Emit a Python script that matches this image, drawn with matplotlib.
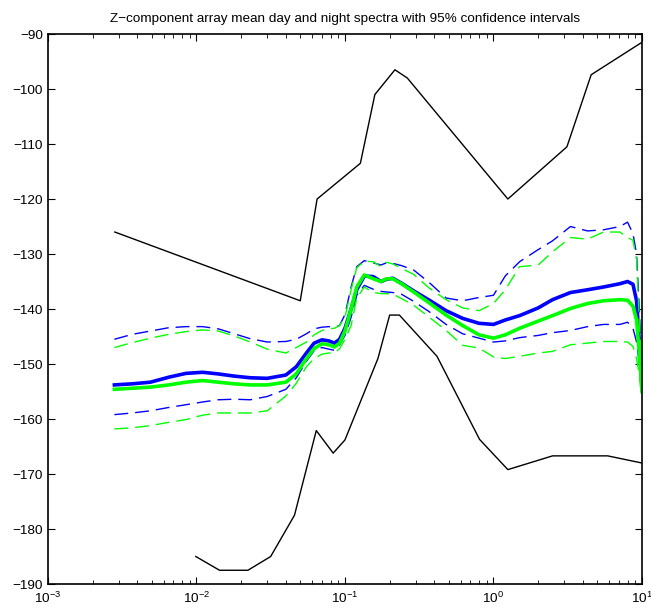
import matplotlib
matplotlib.use("Agg")
import matplotlib.pyplot as plt

plt.rcParams['font.family'] = ['Liberation Sans', 'DejaVu Sans']

# Peterson noise models (frequency in Hz, dB)
nhnm_f = [0.00282, 0.05, 0.0649, 0.127, 0.159, 0.217, 0.263, 1.25, 3.125, 4.55, 10.0]
nhnm_db = [-126.0, -138.5, -120.0, -113.5, -101.0, -96.5, -98.0, -120.0, -110.5, -97.4, -91.5]

nlnm_f = [0.0099, 0.0143, 0.0222, 0.0316, 0.0457, 0.0641, 0.0833, 0.1, 0.1667, 0.2,
          0.2326, 0.4167, 0.806, 1.25, 2.5, 5.88, 10.0]
nlnm_db = [-185.0, -187.5, -187.5, -185.0, -177.5, -162.1, -166.2, -163.8, -149.0, -141.1,
           -141.1, -148.6, -163.7, -169.2, -166.7, -166.7, -168.0]

# array mean spectra
freq = [0.0028, 0.0037, 0.0049, 0.0065, 0.0085, 0.011, 0.014, 0.018, 0.023, 0.03,
        0.04, 0.047, 0.055, 0.062, 0.07, 0.078, 0.085, 0.092, 0.1, 0.11,
        0.12, 0.135, 0.155, 0.175, 0.19, 0.21, 0.24, 0.29, 0.37, 0.48,
        0.62, 0.8, 1.0, 1.2, 1.5, 2.0, 2.5, 3.3, 4.3, 5.5,
        7.1, 8.0, 8.7, 9.2, 9.6, 10.0]

day_mean = [-153.8, -153.6, -153.3, -152.4, -151.7, -151.5, -151.8, -152.2, -152.5, -152.6,
            -152.0, -150.5, -148.0, -146.2, -145.6, -145.8, -146.2, -145.5, -143.5, -140.0,
            -136.5, -134.0, -134.1, -135.0, -134.6, -134.4, -135.3, -136.7, -138.4, -140.3,
            -141.7, -142.6, -142.8, -142.0, -141.2, -139.8, -138.3, -137.0, -136.5, -136.0,
            -135.4, -135.0, -135.5, -138.5, -146.0, -154.0]
day_up = [-145.5, -144.6, -144.0, -143.4, -143.2, -143.2, -143.6, -144.5, -145.4, -146.0,
          -145.9, -145.5, -144.5, -143.6, -143.3, -143.2, -143.3, -143.0, -141.0, -136.0,
          -132.3, -131.2, -131.6, -132.0, -131.6, -131.7, -132.1, -132.9, -135.2, -138.0,
          -138.5, -137.9, -137.5, -134.0, -131.4, -129.2, -127.6, -125.0, -125.8, -125.6,
          -125.0, -124.2, -126.3, -130.0, -140.0, -152.0]
day_low = [-159.2, -158.9, -158.5, -157.9, -157.4, -156.9, -156.5, -156.4, -156.5, -155.9,
           -154.6, -152.5, -149.5, -147.6, -147.0, -147.3, -147.5, -146.5, -144.8, -141.5,
           -137.5, -135.7, -136.4, -136.8, -136.9, -137.0, -137.3, -138.6, -140.5, -142.8,
           -144.5, -145.3, -146.0, -145.8, -145.2, -144.8, -144.3, -143.9, -143.2, -142.8,
           -142.8, -142.4, -143.5, -146.0, -150.0, -155.0]

night_mean = [-154.6, -154.4, -154.2, -153.8, -153.3, -153.0, -153.3, -153.6, -153.8, -153.8,
              -153.3, -151.8, -149.0, -147.2, -146.3, -146.5, -146.9, -146.2, -144.0, -140.0,
              -136.0, -133.8, -134.5, -135.0, -134.5, -134.5, -135.4, -136.9, -138.9, -141.1,
              -143.0, -144.7, -145.3, -144.7, -143.5, -142.2, -141.2, -139.9, -139.0, -138.5,
              -138.3, -138.4, -139.5, -142.0, -148.0, -155.0]
night_up = [-147.0, -146.1, -145.3, -144.6, -144.1, -143.8, -144.0, -144.9, -146.0, -147.3,
            -148.0, -147.0, -146.0, -144.7, -143.9, -143.6, -143.5, -143.0, -141.5, -136.5,
            -132.5, -131.3, -131.4, -132.3, -131.5, -131.8, -132.6, -133.7, -136.2, -138.3,
            -139.8, -140.3, -139.0, -136.5, -132.3, -132.0, -129.6, -127.0, -127.3, -126.0,
            -126.0, -127.0, -127.5, -131.0, -142.0, -153.0]
night_low = [-161.8, -161.6, -161.2, -160.6, -160.1, -159.3, -158.9, -158.9, -158.9, -158.5,
             -155.8, -153.5, -150.5, -149.0, -148.2, -148.0, -148.0, -147.2, -145.5, -143.0,
             -138.0, -136.0, -137.0, -137.2, -137.2, -137.3, -138.1, -139.3, -141.5, -143.9,
             -146.6, -147.1, -148.7, -149.0, -148.6, -148.0, -147.7, -146.5, -146.2, -145.9,
             -145.9, -146.0, -146.8, -149.0, -152.0, -156.0]

fig = plt.figure(figsize=(6.51, 6.10), dpi=100)
ax = fig.add_axes([0.0737, 0.0426, 0.9124, 0.9016])

ax.semilogx(nhnm_f, nhnm_db, color='k', lw=1.0)
ax.semilogx(nlnm_f, nlnm_db, color='k', lw=1.0)

dash = (10, 5)
ax.semilogx(freq, day_mean, color='b', lw=2.6)
ax.semilogx(freq, day_up, color='b', lw=1.0, dashes=dash)
ax.semilogx(freq, day_low, color='b', lw=1.0, dashes=dash)
ax.semilogx(freq, night_mean, color='#00ff00', lw=2.6)
ax.semilogx(freq, night_up, color='#00ff00', lw=1.0, dashes=dash)
ax.semilogx(freq, night_low, color='#00ff00', lw=1.0, dashes=dash)

ax.set_xlim(1e-3, 10)
ax.set_ylim(-190, -90)
ax.set_yticks(range(-190, -89, 10))
ax.tick_params(which='both', direction='in', top=True, right=True, labelsize=9.7)
ax.tick_params(which='major', length=5, width=0.8)
ax.tick_params(which='minor', length=3, width=0.6)
ax.tick_params(axis='x', which='major', pad=5)
for s in ax.spines.values():
    s.set_linewidth(1.2)

ax.set_title("Z\u2212component array mean day and night spectra with 95% confidence intervals",
             fontsize=9.7, pad=9)

fig.savefig("out.png", dpi=100)
